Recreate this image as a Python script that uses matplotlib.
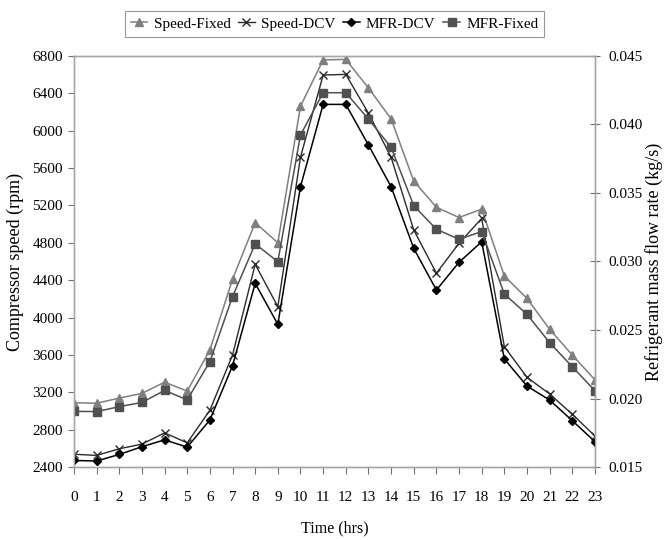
import matplotlib
matplotlib.use("Agg")
import matplotlib.pyplot as plt
from matplotlib.ticker import FormatStrFormatter, MultipleLocator

plt.rcParams['font.family'] = ['Liberation Serif', 'DejaVu Serif']

hours = list(range(24))

# Compressor speed (rpm), left axis
speed_fixed = [3090, 3085, 3140, 3190, 3310, 3215, 3655, 4410, 5015, 4800,
               6260, 6755, 6760, 6455, 6125, 5460, 5180, 5070, 5160, 4445,
               4205, 3875, 3600, 3335]
speed_dcv = [2540, 2527, 2598, 2648, 2768, 2662, 3010, 3600, 4570, 4117,
             5715, 6593, 6600, 6185, 5715, 4937, 4475, 4795, 5060, 3690,
             3362, 3184, 2967, 2735]

# Refrigerant mass flow rate (kg/s), right axis
mfr_dcv = [0.01550, 0.01546, 0.01594, 0.01650, 0.01700, 0.01647, 0.01845,
           0.02240, 0.02841, 0.02542, 0.03545, 0.04145, 0.04145, 0.03849,
           0.03545, 0.03096, 0.02792, 0.02994, 0.03144, 0.02290, 0.02092,
           0.01990, 0.01840, 0.01687]
mfr_fixed = [0.01908, 0.01906, 0.01942, 0.01973, 0.02060, 0.01992, 0.02270,
             0.02744, 0.03128, 0.02999, 0.03922, 0.04230, 0.04230, 0.04038,
             0.03832, 0.03407, 0.03235, 0.03162, 0.03218, 0.02763, 0.02615,
             0.02408, 0.02233, 0.02058]

fig = plt.figure(figsize=(6.64, 5.4), dpi=100)
ax = fig.add_axes([0.1114, 0.1346, 0.7846, 0.7623])
ax2 = ax.twinx()

spine_col = '#a6a6a6'

l1, = ax.plot(hours, speed_fixed, color='#7f7f7f', lw=1.1, marker='^',
              ms=6, mfc='#7f7f7f', mec='#7f7f7f', label='Speed-Fixed')
l2, = ax.plot(hours, speed_dcv, color='#2b2b2b', lw=1.0, marker='x',
              ms=6, mew=1.0, mec='#2b2b2b', label='Speed-DCV')
l3, = ax2.plot(hours, mfr_dcv, color='#000000', lw=1.1, marker='D',
               ms=4, mfc='#000000', mec='#000000', label='MFR-DCV')
l4, = ax2.plot(hours, mfr_fixed, color='#505050', lw=1.1, marker='s',
               ms=6, mfc='#505050', mec='#505050', label='MFR-Fixed')

ax.set_xlim(0, 23)
ax.set_ylim(2400, 6800)
ax.yaxis.set_major_locator(MultipleLocator(400))
ax.set_xticks(hours)
ax2.set_ylim(0.015, 0.045)
ax2.yaxis.set_major_locator(MultipleLocator(0.005))
ax2.yaxis.set_major_formatter(FormatStrFormatter('%.3f'))

for a in (ax, ax2):
    for s in a.spines.values():
        s.set_color(spine_col)
        s.set_linewidth(1.0)

ax.tick_params(axis='y', direction='out', length=4, width=0.8,
               color='#707070', labelsize=11, pad=4)
ax.tick_params(axis='x', direction='out', length=5, width=0.8,
               color='#707070', labelsize=11, pad=12)
ax2.tick_params(axis='y', direction='inout', length=7, width=0.8,
                color='#707070', labelsize=11, pad=6)

ax.set_xlabel('Time (hrs)', fontsize=11.5, labelpad=12)
ax.set_ylabel('Compressor speed (rpm)', fontsize=13, labelpad=6)
ax2.set_ylabel('Refrigerant mass flow rate (kg/s)', fontsize=13,
               labelpad=2)

leg = ax.legend(handles=[l1, l2, l3, l4], loc='lower center',
                bbox_to_anchor=(0.5, 1.035), ncol=4, frameon=True,
                fancybox=False, fontsize=11, handlelength=1.1,
                handletextpad=0.4, columnspacing=0.5, borderpad=0.4,
                borderaxespad=0.3, edgecolor='#7f7f7f')
leg.get_frame().set_linewidth(0.8)

fig.savefig('out.png', dpi=100)
